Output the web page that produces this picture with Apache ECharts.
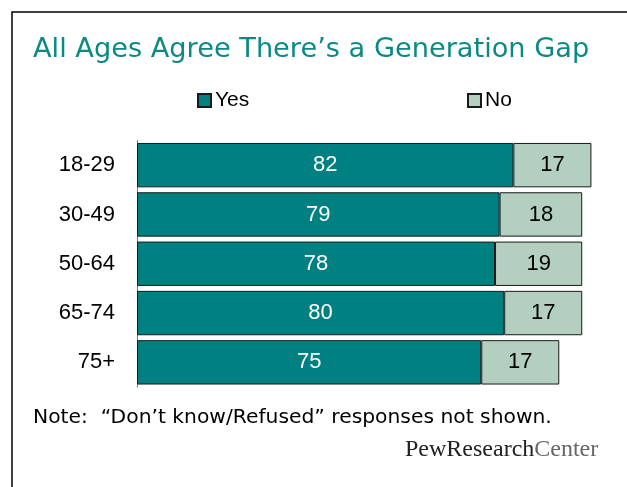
<!DOCTYPE html>
<html>
<head>
<meta charset="utf-8">
<script src="https://cdn.jsdelivr.net/npm/echarts@6/dist/echarts.min.js"></script>
<style>
html,body{margin:0;padding:0;background:#fff;}
#chart{width:627px;height:487px;}
</style>
</head>
<body>
<div id="chart"></div>
<script>
var categories = ['18-29', '30-49', '50-64', '65-74', '75+'];
var yesValues = [82, 79, 78, 80, 75];
var noValues = [17, 18, 19, 17, 17];
var titleText = 'All Ages Agree There\u2019s a Generation Gap';
var noteText = 'Note:  \u201cDon\u2019t know/Refused\u201d responses not shown.';

var chart = echarts.init(document.getElementById('chart'), null, {renderer: 'canvas'});
var labelFont = 'Liberation Sans';
var option = {
  backgroundColor: '#fff',
  animation: false,
  title: {
    text: titleText,
    left: 33, top: 36, padding: 0,
    textStyle: {color: '#0B8A84', fontFamily: 'DejaVu Sans', fontWeight: 'normal', fontSize: 27.2}
  },
  legend: [{
    data: ['Yes'], left: 197, top: 90, padding: 0, icon: 'rect', itemWidth: 13, itemHeight: 13, itemGap: 4,
    textStyle: {fontFamily: labelFont, fontSize: 21, color: '#000', padding: [0,0,0,-1]}
  }, {
    data: ['No'], left: 467, top: 90, padding: 0, icon: 'rect', itemWidth: 13, itemHeight: 13, itemGap: 4,
    textStyle: {fontFamily: labelFont, fontSize: 21, color: '#000', padding: [0,0,0,-1]}
  }],
  grid: {left: 137, right: 31, top: 140.5, bottom: 100, containLabel: false},
  xAxis: {type: 'value', min: 0, max: 100, show: false},
  yAxis: {
    type: 'category', data: categories, inverse: true,
    axisLine: {show: true, lineStyle: {color: '#777', width: 1}},
    axisTick: {show: false},
    axisLabel: {fontFamily: labelFont, fontSize: 22, color: '#000', margin: 22}
  },
  series: [{
    name: 'Yes', type: 'bar', stack: 'a', data: yesValues, barCategoryGap: '10%',
    itemStyle: {color: '#008080', borderColor: '#1a1a1a', borderWidth: 1},
    label: {show: true, position: 'inside', color: '#fff', fontFamily: labelFont, fontSize: 22}
  }, {
    name: 'No', type: 'bar', stack: 'a', data: noValues,
    itemStyle: {color: '#B3CFBF', borderColor: '#1a1a1a', borderWidth: 1},
    label: {show: true, position: 'inside', color: '#000', fontFamily: labelFont, fontSize: 22}
  }],
  graphic: [{
    type: 'rect', shape: {x: 12, y: 12, width: 700, height: 600},
    style: {fill: 'none', stroke: '#000', lineWidth: 1.5}, silent: true
  }, {
    type: 'text', left: 33, top: 408,
    style: {text: noteText, fontFamily: 'DejaVu Sans', fontSize: 20.3, fill: '#000'}
  }, {
    type: 'text', left: 405, top: 438,
    style: {
      text: '{a|PewResearch}{b|Center}',
      rich: {
        a: {fontFamily: 'Liberation Serif', fontSize: 24, fill: '#222', color: '#222'},
        b: {fontFamily: 'Liberation Serif', fontSize: 24, fill: '#666', color: '#666'}
      }
    }
  }]
};
chart.setOption(option);
</script>
</body>
</html>
